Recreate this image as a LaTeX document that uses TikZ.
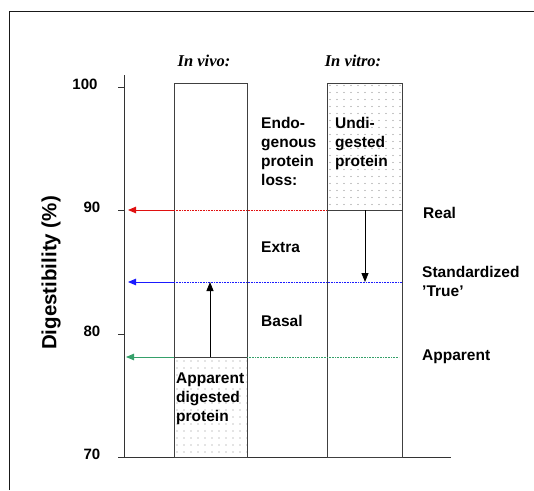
\documentclass[tikz,border=0pt]{standalone}
\usepackage{fontspec}
\setmainfont{Liberation Sans}
\newfontfamily\serifbi{Liberation Serif}
\usetikzlibrary{arrows.meta}
\definecolor{cred}{HTML}{E01010}
\definecolor{cblue}{HTML}{1A1AFF}
\definecolor{cgreen}{HTML}{35A06A}
\begin{document}
\begin{tikzpicture}[x=1pt,y=-1pt]
\useasboundingbox (0,0) rectangle (534,490);
\tikzset{
  lbl/.style={font=\bfseries\fontsize{15.5}{19}\selectfont, inner sep=0pt, anchor=base west},
  num/.style={font=\bfseries\fontsize{15}{18}\selectfont, inner sep=0pt, anchor=center},
  head/.style={font=\serifbi\bfseries\itshape\fontsize{16.5}{19}\selectfont, inner sep=0pt, anchor=base},
  boxline/.style={draw=black!75, line width=0.9pt},
  axisline/.style={draw=black!80, line width=0.9pt},
  levelarrow/.style={line width=0.9pt, -{Triangle[length=8pt,width=6.5pt]}},
  levelguide/.style={line width=0.6pt, dash pattern=on 0.8pt off 0.8pt},
  shiftarrow/.style={draw=black, line width=0.9pt, -{Triangle[length=9pt,width=7pt]}},
  dotfill/.style={fill=black!45},
}
% outer frame (cut off at right and bottom)
\draw[line width=1.6pt, black!90] (9.5,490) -- (9.5,11.5) -- (534,11.5);

% dotted fillings
\begin{scope}
  \clip (327,83) rectangle (402,210);
  \foreach \i in {0,...,10} \foreach \j in {0,...,18}
    \fill[dotfill] (330+\i*7, 85.5+\j*7) circle (0.55pt);
\end{scope}
\begin{scope}
  \clip (174,357) rectangle (247,457);
  \foreach \i in {0,...,10} \foreach \j in {0,...,14}
    \fill[dotfill] (177+\i*7, 361+\j*7) circle (0.55pt);
\end{scope}

% coordinates
\coordinate (axtop) at (124,75);
\coordinate (axbot) at (124,457);
\coordinate (baseL) at (118,457);
\coordinate (baseR) at (451,457);
\coordinate (t100a) at (118,87);  \coordinate (t100b) at (124,87);
\coordinate (t90a)  at (118,210); \coordinate (t90b)  at (124,210);
\coordinate (t80a)  at (118,334); \coordinate (t80b)  at (124,334);

% axis
\draw[axisline] (axtop) -- (axbot);
\draw[axisline] (baseL) -- (baseR);
\draw[axisline] (t100a) -- (t100b);
\draw[axisline] (t90a) -- (t90b);
\draw[axisline] (t80a) -- (t80b);

\node[num] (n100) at (85,84) {100};
\node[num] (n90)  at (92,207) {90};
\node[num] (n80)  at (92,331) {80};
\node[num] (n70)  at (92,454) {70};

\node[font=\bfseries\fontsize{20.5}{24}\selectfont, rotate=90, inner sep=0pt] (ytitle) at (51,273) {Digestibility (\%)};

\node[head] (hvivo)  at (204,66) {In vivo:};
\node[head] (hvitro) at (353,66) {In vitro:};

% boxes
\coordinate (viTL) at (174,83);  \coordinate (viBR) at (247,457);
\coordinate (vtTL) at (327,83);  \coordinate (vtBR) at (402,457);
\coordinate (viApL) at (174,357); \coordinate (viApR) at (247,357);
\coordinate (vtReL) at (327,210); \coordinate (vtReR) at (402,210);
\draw[boxline] (viTL) rectangle (viBR);
\draw[boxline] (vtTL) rectangle (vtBR);
\draw[boxline] (viApL) -- (viApR);
\draw[boxline] (vtReL) -- (vtReR);

% level lines
\coordinate (redTip) at (128,210);
\coordinate (blueTip) at (128,282);
\coordinate (blueL) at (174,282);
\coordinate (blueR) at (402,282);
\coordinate (greenTip) at (126,357);
\coordinate (greenR) at (399,357);

\draw[levelguide, cred] (viTL |- vtReL) -- (vtReL);
\draw[levelarrow, cred] (viTL |- vtReL) -- (redTip);
\draw[levelguide, cblue] (blueL) -- (blueR);
\draw[levelarrow, cblue] (blueL) -- (blueTip);
\draw[levelguide, cgreen] (viApR) -- (greenR);
\draw[levelarrow, cgreen] (viApL) -- (greenTip);

% shift arrows
\coordinate (upS) at (210,357); \coordinate (upE) at (210,282);
\coordinate (dnS) at (365,210); \coordinate (dnE) at (365,282);
\draw[shiftarrow] (upS) -- (upE);
\draw[shiftarrow] (dnS) -- (dnE);

% labels
\node[lbl] (endo) at (261,128) {\begin{tabular}[t]{@{}l@{}}Endo-\\genous\\protein\\loss:\end{tabular}};
\node[lbl] (undi) at (335,128) {\begin{tabular}[t]{@{}l@{}}Undi-\\gested\\protein\end{tabular}};
\node[lbl] (extra) at (261,252) {Extra};
\node[lbl] (basal) at (261,326) {Basal};
\node[lbl] (real) at (423,218) {Real};
\node[lbl] (std) at (422,277) {\begin{tabular}[t]{@{}l@{}}Standardized\\'True'\end{tabular}};
\node[lbl] (appr) at (422,360) {Apparent};
\node[lbl] (appd) at (176,383) {\begin{tabular}[t]{@{}l@{}}Apparent\\digested\\protein\end{tabular}};
\end{tikzpicture}
\end{document}
